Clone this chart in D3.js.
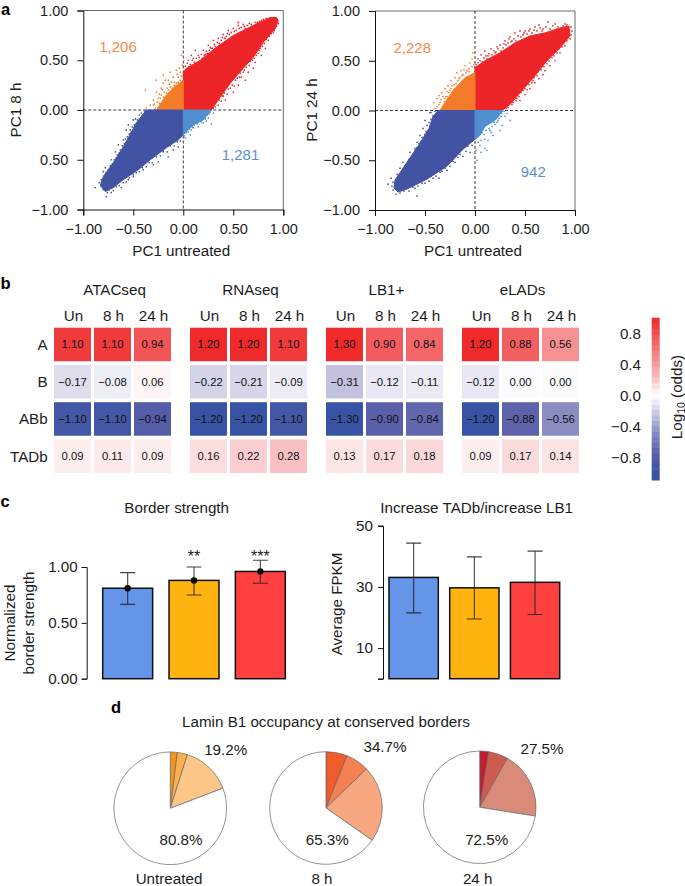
<!DOCTYPE html>
<html>
<head>
<meta charset="utf-8">
<style>
html, body { margin: 0; padding: 0; background: #fff; }
svg { display: block; }
text { font-family: "Liberation Sans", sans-serif; fill: #1c1c1c; }
.axis path, .axis line { stroke: #111; stroke-width: 1; }
.axis text { font-family: "Liberation Sans", sans-serif; fill: #1c1c1c; }
</style>
</head>
<body>

<svg id="chart" width="685" height="886" viewBox="0 0 685 886"></svg>

<script src="https://d3js.org/d3.v7.min.js"></script>
<script>

// --- a: outlines of the dense clouds (PC1 untreated, PC1 treated)
var a1Red = [[0,0],[0,.38],[.03,.42],[.17,.5],[.33,.63],[.5,.75],[.7,.85],[.87,.93],[.93,.93],[.95,.9],[.92,.82],[.8,.68],[.7,.53],[.6,.42],[.47,.27],[.37,.13],[.28,0]];
var a1Orange = [[0,0],[0,.3],[-.08,.24],[-.17,.15],[-.27,0]];
var a1Blue = [[0,0],[-.37,0],[-.47,-.13],[-.6,-.37],[-.7,-.53],[-.8,-.67],[-.83,-.76],[-.78,-.82],[-.7,-.78],[-.6,-.7],[-.45,-.6],[-.33,-.5],[-.17,-.38],[-.05,-.3],[0,-.25]];
var a1Light = [[0,0],[.28,0],[.2,-.1],[.1,-.15],[0,-.25]];
var a2Red = [[0,0],[0,.43],[.1,.5],[.25,.58],[.4,.68],[.55,.75],[.7,.78],[.85,.83],[.94,.85],[.95,.75],[.85,.63],[.72,.5],[.6,.35],[.47,.2],[.35,.06],[.27,0]];
var a2Orange = [[0,0],[0,.38],[-.1,.33],[-.22,.2],[-.3,.08],[-.35,0]];
var a2Blue = [[0,0],[-.37,0],[-.42,-.06],[-.46,-.18],[-.57,-.36],[-.68,-.52],[-.8,-.7],[-.81,-.78],[-.77,-.82],[-.68,-.79],[-.48,-.69],[-.28,-.56],[-.12,-.39],[0,-.29]];
var a2Light = [[0,0],[.28,0],[.2,-.1],[.1,-.16],[.05,-.25],[0,-.29]];

// stray points outside the dense clouds
var a1Strays = [[-.3,.1],[-.33,.05],[-.27,.18],[-.22,.22],[-.2,.27],[-.15,.3],[-.12,.28],[-.1,.33],[-.07,.4],[-.03,.38],[-.05,.33],[-.01,.45],[-.18,.3],[-.25,.12],[-.22,.15],[-.37,.02],[-.38,.2],[-.27,.3],[-.2,.35],[-.13,.38],[-.02,.55],[-.3,.05],[-.16,.22],[-.09,.28],[-.04,.42],
 [.05,.5],[.08,.55],[.12,.6],[.15,.55],[.2,.6],[.25,.65],[.3,.7],[.35,.72],[.4,.76],[.45,.8],[.5,.82],[.55,.85],[.6,.86],[.55,.88],[.1,.52],[.22,.56],[.28,.62],[.42,.72],[.62,.82],[.72,.88],[.78,.9],
 [.3,.02],[.35,.05],[.42,.1],[.5,.18],[.55,.25],[.62,.3],[.65,.38],[.7,.42],[.72,.48],[.78,.55],[.82,.62],[.85,.7],[.9,.78],[.4,.14],[.33,.09],[.58,.33],[.76,.6],
 [-.42,-.03],[-.5,-.1],[-.55,-.15],[-.57,-.2],[-.6,-.3],[-.65,-.35],[-.68,-.42],[-.72,-.5],[-.78,-.58],[-.8,-.62],[-.88,-.78],[-.77,-.87],[-.72,-.83],[-.62,-.78],[-.5,-.65],[-.4,-.6],[-.25,-.52],[-.15,-.47],[-.1,-.4],[-.05,-.37],[-.52,-.22],[-.62,-.42],[-.3,-.55],[-.55,-.7],[-.2,-.42],
 [.28,-.14],[.3,-.03],[.25,-.08],[.2,-.13],[.15,-.17],[.1,-.18],[.05,-.22],[.02,-.28],[.12,-.12],[.08,-.2],[.22,-.05]];
var a1Fringe = [[.02,.44],[.04,.47],[.07,.46],[.09,.5],[.11,.48],[.13,.52],[.16,.53],[.18,.56],[.19,.52],[.21,.55],[.23,.59],[.24,.57],[.26,.6],[.27,.63],[.29,.62],[.31,.66],[.32,.64],[.34,.68],[.36,.67],[.38,.7],[.39,.73],[.41,.72],[.43,.74],[.44,.77],[.46,.76],[.48,.78],[.51,.79],[.53,.8],[.56,.82],[.58,.83],[.61,.84],[.64,.85],[.66,.87],[.68,.86],[.74,.88],[.76,.89],[.8,.91],[.83,.92],
 [.3,.05],[.32,.03],[.36,.1],[.38,.09],[.39,.14],[.41,.17],[.44,.16],[.45,.21],[.47,.22],[.49,.25],[.51,.24],[.52,.3],[.54,.32],[.56,.33],[.57,.37],[.6,.38],[.61,.4],[.63,.43],[.66,.45],[.67,.49],[.69,.5],[.71,.52],[.73,.55],[.75,.57],[.77,.62],[.79,.64],[.81,.67],[.83,.71],[.86,.74],[.88,.77],[.91,.8],[.93,.84],[.95,.87],
 [-.39,-.01],[-.41,-.06],[-.44,-.05],[-.46,-.1],[-.48,-.09],[-.49,-.15],[-.51,-.17],[-.53,-.2],[-.54,-.24],[-.56,-.27],[-.58,-.29],[-.59,-.34],[-.61,-.36],[-.63,-.4],[-.64,-.43],[-.66,-.45],[-.67,-.48],[-.69,-.5],[-.71,-.54],[-.73,-.56],[-.75,-.6],[-.77,-.63],[-.79,-.66],[-.82,-.7],[-.84,-.73],
 [-.8,-.8],[-.76,-.83],[-.74,-.8],[-.7,-.81],[-.67,-.77],[-.64,-.76],[-.6,-.73],[-.57,-.72],[-.54,-.68],[-.5,-.67],[-.47,-.63],[-.44,-.62],[-.41,-.58],[-.37,-.57],[-.34,-.53],[-.31,-.53],[-.27,-.47],[-.23,-.46],[-.2,-.41],[-.16,-.42],[-.13,-.36],[-.09,-.36],[-.06,-.32],[-.03,-.31],
 [-.28,.02],[-.29,.06],[-.26,.08],[-.24,.07],[-.23,.12],[-.2,.13],[-.19,.18],[-.17,.17],[-.15,.2],[-.13,.23],[-.11,.22],[-.09,.25],[-.07,.27],[-.05,.28],[-.03,.3],[-.02,.34],[-.14,.26],[-.21,.2],[-.06,.36],[-.24,.16],
 [.27,-.02],[.26,-.04],[.24,-.05],[.22,-.09],[.19,-.08],[.18,-.12],[.14,-.14],[.11,-.15],[.09,-.17],[.06,-.19],[.03,-.23],[.01,-.26],[.16,-.11],[.23,-.11],[.07,-.25]];
var a2Strays = [[-.4,.02],[-.41,.08],[-.38,.12],[-.36,.15],[-.33,.18],[-.3,.22],[-.27,.25],[-.24,.3],[-.2,.33],[-.18,.38],[-.14,.4],[-.1,.45],[-.05,.48],[-.02,.58],[-.03,.52],[-.28,.14],[-.24,.22],[-.19,.27],[-.13,.35],[-.08,.4],[-.35,.08],[-.3,.12],[-.26,.18],[-.16,.32],[-.06,.42],
 [.03,.52],[.06,.56],[.1,.6],[.16,.62],[.2,.58],[.25,.66],[.3,.7],[.35,.74],[.4,.78],[.45,.8],[.5,.8],[.55,.82],[.6,.84],[.68,.82],[.73,.89],[.8,.87],[.13,.55],[.22,.64],[.37,.7],[.48,.76],[.64,.86],[.9,.87],
 [.28,.02],[.33,.03],[.38,.08],[.42,.12],[.5,.16],[.55,.22],[.6,.28],[.64,.32],[.7,.4],[.75,.45],[.8,.5],[.85,.58],[.9,.65],[.95,.72],[.45,.1],[.58,.3],[.68,.36],
 [-.44,-.02],[-.5,-.1],[-.52,-.18],[-.55,-.25],[-.58,-.32],[-.6,-.38],[-.65,-.42],[-.72,-.52],[-.75,-.58],[-.87,-.74],[-.84,-.68],[-.58,-.86],[-.6,-.78],[-.5,-.73],[-.42,-.68],[-.35,-.62],[-.28,-.6],[-.2,-.52],[-.12,-.46],[-.05,-.42],[-.48,-.25],[-.62,-.46],[-.7,-.62],[-.78,-.64],[-.36,-.68],
 [.35,-.1],[.32,-.03],[.3,-.06],[.27,-.15],[.25,-.2],[.18,-.25],[.13,-.3],[.1,-.38],[.12,-.4],[.05,-.35],[.02,-.5],[.01,-.4],[.06,-.42],[.2,-.14],[.15,-.2],[.24,-.08]];
var a2Fringe = [[.01,.46],[.03,.48],[.05,.5],[.07,.49],[.09,.53],[.11,.55],[.12,.52],[.14,.57],[.17,.56],[.19,.6],[.21,.59],[.23,.62],[.26,.6],[.28,.63],[.29,.67],[.31,.66],[.33,.68],[.34,.72],[.36,.69],[.39,.72],[.41,.7],[.43,.75],[.46,.74],[.49,.78],[.52,.77],[.54,.8],[.57,.78],[.59,.81],[.62,.8],[.65,.83],[.67,.8],[.71,.84],[.75,.82],[.78,.85],[.83,.84],[.88,.85],[.92,.86],
 [.29,.04],[.31,.02],[.34,.07],[.37,.06],[.39,.12],[.41,.1],[.44,.14],[.46,.18],[.48,.2],[.5,.22],[.52,.21],[.54,.26],[.57,.28],[.59,.33],[.62,.35],[.63,.39],[.66,.41],[.69,.44],[.72,.47],[.74,.5],[.77,.53],[.79,.55],[.82,.58],[.84,.62],[.87,.64],[.89,.68],[.92,.7],[.96,.76],[.97,.8],[.96,.84],
 [-.4,-.01],[-.42,-.05],[-.45,-.02],[-.44,-.09],[-.46,-.12],[-.48,-.15],[-.45,-.16],[-.49,-.21],[-.5,-.24],[-.53,-.27],[-.54,-.31],[-.56,-.33],[-.58,-.37],[-.6,-.4],[-.62,-.44],[-.64,-.47],[-.66,-.49],[-.68,-.54],[-.7,-.56],[-.72,-.6],[-.74,-.63],[-.77,-.66],[-.79,-.69],[-.82,-.72],[-.83,-.76],[-.82,-.8],
 [-.79,-.84],[-.75,-.83],[-.71,-.81],[-.66,-.81],[-.62,-.77],[-.57,-.76],[-.53,-.73],[-.46,-.71],[-.44,-.66],[-.39,-.66],[-.33,-.61],[-.3,-.58],[-.25,-.56],[-.22,-.51],[-.17,-.47],[-.15,-.44],[-.09,-.41],[-.07,-.36],[-.03,-.35],
 [-.38,.04],[-.36,.06],[-.34,.11],[-.32,.14],[-.29,.14],[-.28,.19],[-.25,.2],[-.23,.25],[-.21,.26],[-.17,.3],[-.15,.33],[-.12,.36],[-.09,.38],[-.06,.39],[-.03,.44],[-.01,.46],[-.31,.09],[-.27,.11],[-.2,.22],[-.11,.41],
 [.29,-.01],[.27,-.03],[.26,-.06],[.23,-.1],[.22,-.12],[.19,-.12],[.17,-.16],[.14,-.18],[.11,-.2],[.09,-.24],[.07,-.22],[.06,-.3],[.03,-.32],[.1,-.29],[.16,-.22]];

var xTickVals = [-1, -.5, 0, .5, 1];
var xTickLabels = ["−1.00", "−0.50", "0.00", "0.50", "1.00"];
var a1YTickLabels = ["−1.00", "0.50", "0.00", "0.50", "1.00"];
var a2YTickLabels = ["−1.00", "−0.50", "0.00", "0.50", "1.00"];

// --- b: heat map
var groups = ["ATACseq", "RNAseq", "LB1+", "eLADs"];
var times = ["Un", "8 h", "24 h"];
var rows = ["A", "B", "ABb", "TADb"];
var atacValues = [[1.10, 1.10, .94], [-.17, -.08, .06], [-1.10, -1.10, -.94], [.09, .11, .09]];
var rnaValues = [[1.20, 1.20, 1.10], [-.22, -.21, -.09], [-1.20, -1.20, -1.10], [.16, .22, .28]];
var lb1Values = [[1.30, .90, .84], [-.31, -.12, -.11], [-1.30, -.90, -.84], [.13, .17, .18]];
var eladValues = [[1.20, .88, .56], [-.12, 0, 0], [-1.20, -.88, -.56], [.09, .17, .14]];
var groupValues = [atacValues, rnaValues, lb1Values, eladValues];
var barTicks = [.8, .4, 0, -.4, -.8];

// --- c: bars
var barCats = ["Untreated", "8 h", "24 h"];
var borderMean = [.81, .88, .96];
var borderLow = [.665, .75, .855];
var borderHigh = [.95, 1.0, 1.06];
var borderStars = ["", "**", "***"];
var borderTicks = [0, .5, 1];
var fpkmMean = [33.1, 29.7, 31.5];
var fpkmLow = [21.5, 19.5, 21];
var fpkmHigh = [44.3, 39.8, 41.7];
var fpkmTicks = [0, 10, 30, 50];

// --- d: pies
var pieNames = ["Untreated", "8 h", "24 h"];
var pieUntreated = [2.0, 2.9, 14.3, 80.8];
var pie8h = [6.1, 6.7, 21.9, 65.3];
var pie24h = [2.6, 5.6, 19.3, 72.5];
var pieLabels = [["19.2%", "80.8%"], ["34.7%", "65.3%"], ["27.5%", "72.5%"]];

var svg = d3.select("#chart");
var fs = 15.2;

function label(x, y, str, size, anchor, parent) {
    return (parent || svg).append("text")
        .attr("x", x)
        .attr("y", y)
        .attr("text-anchor", anchor || "middle")
        .attr("font-size", size)
        .text(str);
}

function rotLabel(x, y, str, size) {
    return svg.append("text")
        .attr("transform", "translate(" + x + "," + y + ") rotate(-90)")
        .attr("text-anchor", "middle")
        .attr("font-size", size)
        .text(str);
}

// panel letters
[["a", 1, 15], ["b", 0.5, 289], ["c", 0.5, 507], ["d", 111, 713]].forEach(function(d) {
    label(d[1], d[2], d[0], 16.5, "start").attr("font-weight", "bold").style("fill", "#000");
});

// --- panel a
var quadColors = {red: "#ee2528", orange: "#f47b2a", blue: "#4353a4", light: "#4f8fcf"};

function quadColor(p) {
    if (p[0] >= 0) return p[1] >= 0 ? quadColors.red : quadColors.light;
    return p[1] >= 0 ? quadColors.orange : quadColors.blue;
}

function scatter(o) {
    var x = d3.scaleLinear().domain([-1, 1]).range([o.left, o.left + 200]);
    var y = d3.scaleLinear().domain([-1, 1]).range([o.top + 199, o.top]);
    var line = d3.line().x(function(d) { return x(d[0]); }).y(function(d) { return y(d[1]); });
    var g = svg.append("g");

    // frame and dashed zero lines go under the points
    g.append("path")
        .attr("d", "M" + x(-1) + "," + y(1) + "H" + x(1) + "V" + y(-1))
        .attr("fill", "none")
        .attr("stroke", "#444")
        .attr("stroke-width", 0.8);
    g.append("line")
        .attr("x1", x(-1)).attr("x2", x(1)).attr("y1", y(0)).attr("y2", y(0))
        .attr("stroke", "#222").attr("stroke-width", 0.9).attr("stroke-dasharray", "3,2");
    g.append("line")
        .attr("x1", x(0)).attr("x2", x(0)).attr("y1", y(1)).attr("y2", y(-1))
        .attr("stroke", "#222").attr("stroke-width", 0.9).attr("stroke-dasharray", "3,2");

    o.clouds.forEach(function(c) {
        g.append("path")
            .attr("d", line(c) + "Z")
            .attr("fill", quadColor(c[2]))
            .attr("stroke", quadColor(c[2]))
            .attr("stroke-width", 1);
    });

    g.selectAll("circle")
        .data(o.strays)
        .enter()
        .append("circle")
        .attr("cx", function(d) { return x(d[0]); })
        .attr("cy", function(d) { return y(d[1]); })
        .attr("r", 0.85)
        .attr("fill", quadColor);

    svg.append("g")
        .attr("class", "axis")
        .attr("transform", "translate(0," + y(-1) + ")")
        .call(d3.axisBottom(x).tickValues(xTickVals).tickSize(6).tickPadding(8)
            .tickFormat(function(d, i) { return xTickLabels[i]; }))
        .attr("font-size", 14.5);
    svg.append("g")
        .attr("class", "axis")
        .attr("transform", "translate(" + x(-1) + ",0)")
        .call(d3.axisLeft(y).tickValues(xTickVals).tickSize(6).tickPadding(9)
            .tickFormat(function(d, i) { return o.yLabels[i]; }))
        .attr("font-size", 14.5);

    label(x(0) - 2, 256, "PC1 untreated", fs);
    rotLabel(o.yTitleX, 110, o.yTitle, fs);
    o.counts.forEach(function(c) {
        label(c[0], c[1], c[2], 15).style("fill", c[3]);
    });
}

scatter({
    left: 83.3, top: 10.5,
    clouds: [a1Red, a1Orange, a1Blue, a1Light],
    strays: a1Strays.concat(a1Fringe),
    yLabels: a1YTickLabels,
    yTitle: "PC1 8 h", yTitleX: 21,
    counts: [[118, 52, "1,206", "#f58a4a"], [240.5, 160, "1,281", "#5b8fd0"]]
});
scatter({
    left: 375, top: 11,
    clouds: [a2Red, a2Orange, a2Blue, a2Light],
    strays: a2Strays.concat(a2Fringe),
    yLabels: a2YTickLabels,
    yTitle: "PC1 24 h", yTitleX: 317,
    counts: [[412.3, 52.5, "2,228", "#f58a4a"], [533.3, 176.5, "942", "#5b8fd0"]]
});

// --- panel b
var heat = d3.scaleLinear()
    .domain([-1.2, -.9, -.56, -.31, -.12, 0, .06, .28, .56, .9, 1.2])
    .range(["#3953a4", "#5a5fa9", "#8a8cc2", "#c2c1de", "#e8e7f3", "#fbfbfd", "#fff5f5", "#f8c0c2", "#f59093", "#f25c5e", "#ee2a2b"])
    .clamp(true);

var groupX = d3.scaleBand().domain(groups).range([54, 579]).paddingInner(19 / 136);
var cellX = d3.scaleBand().domain(times).range([0, groupX.bandwidth()]).paddingInner(.075);
var rowY = d3.scaleBand().domain(rows).range([327.7, 473]).paddingInner(.1);

function fmt(v) {
    return (v < 0 ? "−" : "") + Math.abs(v).toFixed(2);
}

groups.forEach(function(name, gi) {
    var g = svg.append("g").attr("transform", "translate(" + groupX(name) + ",0)");
    label(groupX.bandwidth() / 2 + 2, 295, name, fs, "middle", g);
    times.forEach(function(t) {
        label(cellX(t) + cellX.bandwidth() / 2 + 1, 321, t, fs, "middle", g);
    });
    rows.forEach(function(r, ri) {
        times.forEach(function(t, ti) {
            var v = groupValues[gi][ri][ti];
            g.append("rect")
                .attr("x", cellX(t))
                .attr("y", rowY(r))
                .attr("width", cellX.bandwidth())
                .attr("height", rowY.bandwidth())
                .attr("fill", heat(v));
            label(cellX(t) + cellX.bandwidth() / 2, rowY(r) + rowY.bandwidth() / 2 + 4, fmt(v), 11.3, "middle", g)
                .style("fill", "#111");
        });
    });
});

rows.forEach(function(r) {
    label(47.7, rowY(r) + rowY.bandwidth() / 2 + 5.5, r, fs, "end");
});

// colour bar
var barY = d3.scaleLinear().domain([-1.09, 1.01]).range([480, 317.7]);
var barBands = d3.range(-1.09, 1.01, .07);
svg.append("g").selectAll("rect")
    .data(barBands)
    .enter()
    .append("rect")
    .attr("x", 651.7)
    .attr("width", 8)
    .attr("y", function(d) { return barY(d + .07); })
    .attr("height", function(d) { return barY(d) - barY(d + .07) + .5; })
    .attr("fill", function(d) { return heat((d + .035) * 1.2); });

barTicks.forEach(function(t) {
    label(641, barY(t) + 5.5, (t < 0 ? "−" : "") + Math.abs(t).toFixed(1), fs, "end");
});

var logTitle = svg.append("text")
    .attr("transform", "translate(681.5,397) rotate(-90)")
    .attr("text-anchor", "middle")
    .attr("font-size", fs);
logTitle.append("tspan").text("Log");
logTitle.append("tspan").attr("font-size", 10.5).attr("dy", 3).text("10");
logTitle.append("tspan").attr("dy", -3).text(" (odds)");

// --- panel c
var barColors = ["#6495e8", "#ffb30f", "#ff4040"];

function barChart(o) {
    var x = d3.scaleBand().domain(barCats).range(o.xRange).paddingInner(o.pad);
    var y = d3.scaleLinear().domain(o.domain).range(o.yRange);
    var g = svg.append("g");

    barCats.forEach(function(c, i) {
        var cx = x(c) + x.bandwidth() / 2;
        g.append("rect")
            .attr("x", x(c))
            .attr("y", y(o.mean[i]))
            .attr("width", x.bandwidth())
            .attr("height", y(0) - y(o.mean[i]))
            .attr("fill", barColors[i])
            .attr("stroke", "#111")
            .attr("stroke-width", 1.5);
        g.append("path")
            .attr("d", "M" + (cx - 7.5) + "," + y(o.high[i]) + "H" + (cx + 7.5) +
                "M" + cx + "," + y(o.high[i]) + "V" + y(o.low[i]) +
                "M" + (cx - 7.5) + "," + y(o.low[i]) + "H" + (cx + 7.5))
            .attr("fill", "none")
            .attr("stroke", "#222")
            .attr("stroke-opacity", .85)
            .attr("stroke-width", 1.1);
        if (o.dots) {
            g.append("circle")
                .attr("cx", cx)
                .attr("cy", y(o.mean[i]))
                .attr("r", 3.2)
                .attr("fill", "#000");
        }
        if (o.stars) {
            label(cx, 562, o.stars[i], 16, "middle", g);
        }
    });

    svg.append("g")
        .attr("class", "axis")
        .attr("transform", "translate(" + o.axisX + ",0)")
        .call(d3.axisLeft(y).tickValues(o.ticks).tickSize(5).tickPadding(o.tickPad)
            .tickFormat(o.format))
        .attr("font-size", fs)
        .call(function(a) { a.select(".domain").attr("stroke-width", 1.2); });
}

barChart({
    xRange: [102.7, 285.3], pad: 16.3 / 66, axisX: 86.7,
    domain: [0, 1], yRange: [678.7, 567],
    mean: borderMean, low: borderLow, high: borderHigh,
    dots: true, stars: borderStars, ticks: borderTicks, tickPad: 4,
    format: function(d) { return d.toFixed(2); }
});
barChart({
    xRange: [389, 559.7], pad: 11.4 / 60.7, axisX: 383,
    domain: [0, 50], yRange: [678.7, 525.7],
    mean: fpkmMean, low: fpkmLow, high: fpkmHigh,
    dots: false, ticks: fpkmTicks, tickPad: 5,
    format: function(d) { return d === 0 ? "" : d; }
});

label(176.7, 512.7, "Border strength", fs);
label(476.7, 512.7, "Increase TADb/increase LB1", fs);
rotLabel(15, 623, "Normalized", fs);
rotLabel(33.5, 623, "border strength", fs);
rotLabel(342, 604, "Average FPKM", fs);

// --- panel d
var pieSets = [pieUntreated, pie8h, pie24h];
var pieColors = [
    ["#f7941d", "#fbb04f", "#fdc689", "#fff"],
    ["#f15a29", "#f58152", "#f7a880", "#fff"],
    ["#be1e2d", "#cf5b50", "#d98a78", "#fff"]
];
var pieCenters = [[170.3, 808.3], [326, 808], [479.7, 807.3]];
var pieTextPos = [[[225.7, 755], [181, 845], 169], [[385, 751.7], [327.3, 845], 322], [[542, 754], [486.7, 845], 477.7]];

var pie = d3.pie().sort(null);
var arc = d3.arc().innerRadius(0).outerRadius(56.3);

pieSets.forEach(function(vals, i) {
    var g = svg.append("g").attr("transform", "translate(" + pieCenters[i][0] + "," + pieCenters[i][1] + ")");
    g.selectAll("path")
        .data(pie(vals))
        .enter()
        .append("path")
        .attr("d", arc)
        .attr("fill", function(d, j) { return pieColors[i][j]; })
        .attr("stroke", "#666")
        .attr("stroke-width", .7);
    label(pieTextPos[i][0][0], pieTextPos[i][0][1], pieLabels[i][0], fs);
    label(pieTextPos[i][1][0], pieTextPos[i][1][1], pieLabels[i][1], fs);
    label(pieTextPos[i][2], 884, pieNames[i], fs);
});

label(326, 727, "Lamin B1 occupancy at conserved borders", fs);

</script>
</body>
</html>
